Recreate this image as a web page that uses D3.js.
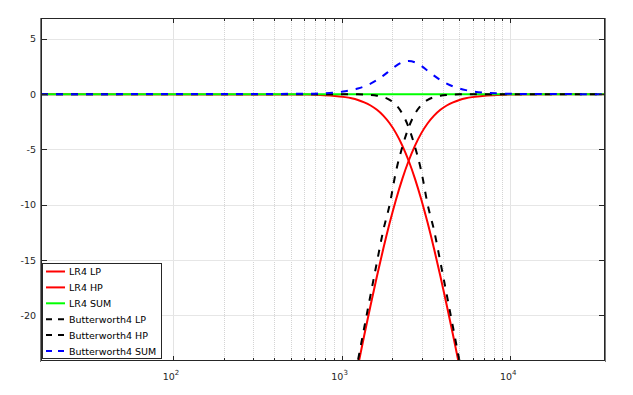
<!DOCTYPE html>
<html>
<head>
<meta charset="utf-8">
<script src="https://cdn.jsdelivr.net/npm/d3@7"></script>
<style>
  body { margin: 0; background: #fff; }
  svg { font-family: "DejaVu Sans", sans-serif; }
  .tick-label { font-size: 9.5px; fill: #262626; }
  .legend-text { font-size: 9.5px; fill: #000; }
</style>
</head>
<body>
<svg id="chart" width="633" height="395"></svg>
<script>
// frequency points (Hz), shared by all series
const freqs = [16.5, 625, 743.2, 883.9, 1051.1, 1146.3, 1250, 1363.1, 1486.5, 1621.0, 1767.8, 1927.8,
  2102.2, 2292.5, 2500, 2726.3, 2973.0, 3242.1, 3535.5, 3855.6, 4204.5, 4585.0, 5000,
  5452.5, 5946.0, 7071.1, 8408.9, 10000, 36500];

// magnitudes in dB
const lr4Lp = [0, -0.034, -0.068, -0.134, -0.267, -0.376, -0.527, -0.736, -1.023, -1.414, -1.938, -2.630,
  -3.522, -4.645, -6.021, -7.656, -9.542, -11.660, -13.979, -16.466, -19.085, -21.808, -24.609,
  -27.468, -30.37, -36.26, -42.21, -48.20, -93.3];
const lr4Hp = [-174.6, -48.20, -42.21, -36.26, -30.37, -27.468, -24.609, -21.808, -19.085, -16.466, -13.979, -11.660,
  -9.542, -7.656, -6.021, -4.645, -3.522, -2.630, -1.938, -1.414, -1.023, -0.736, -0.527,
  -0.376, -0.267, -0.134, -0.068, -0.034, 0];
const lr4Sum = [0, 0, 0, 0, 0, 0, 0, 0, 0, 0, 0, 0,
  0, 0, 0, 0, 0, 0, 0, 0, 0, 0, 0,
  0, 0, 0, 0, 0, 0];
const bw4Lp = [0, 0, 0, -0.001, -0.004, -0.008, -0.017, -0.034, -0.067, -0.134, -0.263, -0.512,
  -0.969, -1.761, -3.010, -4.771, -6.990, -10.000, -12.304, -15.185, -18.129, -21.106, -24.099,
  -27.101, -30.107, -36.125, -42.144, -48.165, -93.3];
const bw4Hp = [-174.6, -48.165, -42.144, -36.125, -30.107, -27.101, -24.099, -21.106, -18.129, -15.185, -12.304, -10.000,
  -6.990, -4.771, -3.010, -1.761, -0.969, -0.512, -0.263, -0.134, -0.067, -0.034, -0.017,
  -0.008, -0.004, -0.001, 0, 0, 0];
const bw4Sum = [0, 0.034, 0.068, 0.133, 0.263, 0.367, 0.510, 0.702, 0.956, 1.280, 1.675, 2.118,
  2.553, 2.884, 3.011, 2.884, 2.553, 2.118, 1.675, 1.280, 0.956, 0.702, 0.510,
  0.367, 0.263, 0.133, 0.068, 0.034, 0];

const seriesNames = ["LR4 LP", "LR4 HP", "LR4 SUM", "Butterworth4 LP", "Butterworth4 HP", "Butterworth4 SUM"];
const seriesValues = [lr4Lp, lr4Hp, lr4Sum, bw4Lp, bw4Hp, bw4Sum];
const seriesColors = ["#ff0000", "#ff0000", "#00ff00", "#000000", "#000000", "#0000ff"];
const seriesDashed = [false, false, false, true, true, true];

const yTicks = [5, 0, -5, -10, -15, -20];
const xMajor = [100, 1000, 10000];
const xMajorExp = ["2", "3", "4"];
const xMinorDecades = [100, 1000];

const svg = d3.select("#chart");
const plot = { left: 41, top: 18, right: 605, bottom: 361 };

const x = d3.scaleLog().domain([16.5, 36500]).range([plot.left, plot.right]);
const y = d3.scaleLinear().domain([-24.13, 6.89]).range([plot.bottom, plot.top]);

// minor x positions 200..900, 2000..9000
const xMinor = [];
xMinorDecades.forEach((dec) => {
  for (let m = 2; m <= 9; m++) xMinor.push(dec * m);
});

svg.append("defs").append("clipPath").attr("id", "clip")
  .append("rect")
  .attr("x", plot.left).attr("y", plot.top)
  .attr("width", plot.right - plot.left).attr("height", plot.bottom - plot.top);

const grid = svg.append("g");
grid.selectAll("line.minor")
  .data(xMinor)
  .join("line")
  .attr("class", "minor")
  .attr("x1", (d) => Math.round(x(d)) + 0.5).attr("x2", (d) => Math.round(x(d)) + 0.5)
  .attr("y1", plot.top).attr("y2", plot.bottom)
  .attr("stroke", "#d4d4d4").attr("stroke-dasharray", "1,1");
grid.selectAll("line.major")
  .data(xMajor)
  .join("line")
  .attr("class", "major")
  .attr("x1", (d) => Math.round(x(d)) + 0.5).attr("x2", (d) => Math.round(x(d)) + 0.5)
  .attr("y1", plot.top).attr("y2", plot.bottom)
  .attr("stroke", "#e3e3e3");
grid.selectAll("line.ygrid")
  .data(yTicks)
  .join("line")
  .attr("class", "ygrid")
  .attr("x1", plot.left).attr("x2", plot.right)
  .attr("y1", (d) => Math.round(y(d)) + 0.5).attr("y2", (d) => Math.round(y(d)) + 0.5)
  .attr("stroke", "#e6e6e6");

const line = d3.line()
  .x((d) => x(d[0]))
  .y((d) => y(d[1]))
  .curve(d3.curveMonotoneX);

const lines = svg.append("g").attr("clip-path", "url(#clip)");
seriesValues.forEach((vals, i) => {
  lines.append("path")
    .datum(freqs.map((f, j) => [f, vals[j]]))
    .attr("d", line)
    .attr("fill", "none")
    .attr("stroke", seriesColors[i])
    .attr("stroke-width", 2)
    .attr("stroke-dasharray", seriesDashed[i] ? "7,8" : null);
});

// axes box and ticks
const axis = svg.append("g").attr("stroke", "#262626").attr("fill", "none");
axis.append("rect")
  .attr("x", plot.left + 0.5).attr("y", plot.top + 0.5)
  .attr("width", plot.right - plot.left - 1).attr("height", plot.bottom - plot.top - 1);
axis.append("line")
  .attr("x1", plot.left - 0.5).attr("x2", plot.left - 0.5)
  .attr("y1", plot.top).attr("y2", plot.bottom + 1)
  .attr("stroke", "#777");
axis.append("line")
  .attr("x1", plot.right + 0.5).attr("x2", plot.right + 0.5)
  .attr("y1", plot.top).attr("y2", plot.bottom + 1)
  .attr("stroke", "#777");

axis.selectAll("line.xmin")
  .data(xMinor.concat(xMinor))
  .join("line")
  .attr("x1", (d) => Math.round(x(d)) + 0.5).attr("x2", (d) => Math.round(x(d)) + 0.5)
  .attr("y1", (d, i) => (i < xMinor.length ? plot.bottom : plot.top))
  .attr("y2", (d, i) => (i < xMinor.length ? plot.bottom - 3 : plot.top + 3));
axis.selectAll("line.xmaj")
  .data(xMajor.concat(xMajor))
  .join("line")
  .attr("x1", (d) => Math.round(x(d)) + 0.5).attr("x2", (d) => Math.round(x(d)) + 0.5)
  .attr("y1", (d, i) => (i < xMajor.length ? plot.bottom : plot.top))
  .attr("y2", (d, i) => (i < xMajor.length ? plot.bottom - 5 : plot.top + 5));
axis.selectAll("line.yt")
  .data(yTicks.concat(yTicks))
  .join("line")
  .attr("y1", (d) => Math.round(y(d)) + 0.5).attr("y2", (d) => Math.round(y(d)) + 0.5)
  .attr("x1", (d, i) => (i < yTicks.length ? plot.left : plot.right))
  .attr("x2", (d, i) => (i < yTicks.length ? plot.left + 6 : plot.right - 6));

svg.selectAll("text.ylab")
  .data(yTicks)
  .join("text")
  .attr("class", "tick-label")
  .attr("x", plot.left - 5)
  .attr("y", (d) => y(d) + 3.5)
  .attr("text-anchor", "end")
  .text((d) => d);

const xl = svg.selectAll("text.xlab")
  .data(xMajor)
  .join("text")
  .attr("class", "tick-label")
  .attr("x", (d) => x(d) - 2)
  .attr("y", 380)
  .attr("text-anchor", "middle");
xl.append("tspan").text("10");
xl.append("tspan")
  .attr("dy", -5)
  .attr("font-size", "7px")
  .text((d, i) => xMajorExp[i]);

// legend
const lg = svg.append("g");
lg.append("rect")
  .attr("x", 42.5).attr("y", 263.5).attr("width", 119).attr("height", 95)
  .attr("fill", "#fff").attr("stroke", "#262626");
seriesNames.forEach((name, i) => {
  const yy = 271.5 + i * 15.9;
  lg.append("line")
    .attr("x1", 46).attr("x2", 65).attr("y1", yy).attr("y2", yy)
    .attr("stroke", seriesColors[i]).attr("stroke-width", 2)
    .attr("stroke-dasharray", seriesDashed[i] ? "6,6" : null);
  lg.append("text")
    .attr("class", "legend-text")
    .attr("x", 69).attr("y", yy + 3.5)
    .text(name);
});
</script>
</body>
</html>
